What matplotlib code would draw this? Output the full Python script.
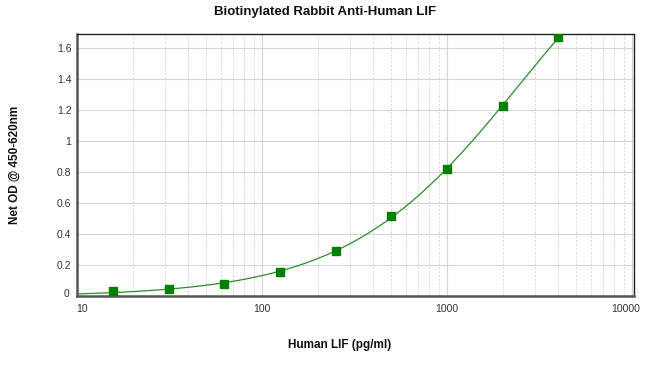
import numpy as np
import matplotlib
matplotlib.use("Agg")
import matplotlib.pyplot as plt
import matplotlib.transforms as mtransforms
from matplotlib.ticker import FixedLocator, NullFormatter, LogLocator

plt.rcParams['font.family'] = ['Liberation Sans', 'DejaVu Sans']

concentration = [15.6, 31.25, 62.5, 125, 250, 500, 1000, 2000, 4000]
od_values = [0.032, 0.045, 0.077, 0.155, 0.29, 0.516, 0.82, 1.226, 1.67]
y_ticks = [0, 0.2, 0.4, 0.6, 0.8, 1, 1.2, 1.4, 1.6]
y_tick_labels = ["0", "0.2", "0.4", "0.6", "0.8", "1", "1.2", "1.4", "1.6"]
x_ticks = [10, 100, 1000, 10000]
x_tick_labels = ["10", "100", "1000", "10000"]

title = "Biotinylated Rabbit Anti-Human LIF"
xlabel = "Human LIF (pg/ml)"
ylabel = "Net OD @ 450-620nm"


def fit_4pl(x, y):
    x = np.asarray(x, float)
    y = np.asarray(y, float)
    best = None
    for b in np.linspace(0.5, 3.0, 126):
        for c in np.logspace(2, 6, 201):
            w = 1.0 / (1.0 + (x / c) ** b)
            A = np.column_stack([w, 1 - w])
            sol, *_ = np.linalg.lstsq(A, y, rcond=None)
            err = np.sum((A @ sol - y) ** 2)
            if best is None or err < best[0]:
                best = (err, sol[0], sol[1], b, c)
    _, a, d, b, c = best
    return lambda t: d + (a - d) / (1.0 + (t / c) ** b)


fig = plt.figure(figsize=(6.5, 3.72), dpi=100)
ax = fig.add_axes([77/650, 1-296/372, (634-77)/650, (296-34)/372])

curve = fit_4pl(concentration, od_values)
xf = np.logspace(1, np.log10(concentration[-1]), 300)
ax.plot(xf, curve(xf), color='#2e8b2e', lw=0.9, zorder=3)
ax.plot(concentration, od_values, 's', color='#008000', ms=6, zorder=4, ls='none')

ax.set_xscale('log')
ax.set_xlim(10, 10250)
ax.set_ylim(0, 1.69)

ax.xaxis.set_major_locator(FixedLocator(x_ticks))
ax.set_xticklabels(x_tick_labels)
ax.xaxis.set_minor_locator(LogLocator(base=10, subs=np.arange(2, 10)))
ax.xaxis.set_minor_formatter(NullFormatter())
ax.set_yticks(y_ticks)
ax.set_yticklabels(y_tick_labels)

ax.grid(True, which='major', axis='both', color='#d4d4d4', lw=0.8, ls='-', zorder=0)
ax.grid(True, which='minor', axis='x', color='#d4d4d4', lw=0.7, ls=(0, (2, 2)), zorder=0)
ax.set_axisbelow(True)

ax.tick_params(axis='both', which='both', length=0, labelsize=7.5, colors='#333333')
ax.tick_params(axis='x', pad=6)
ax.tick_params(axis='y', pad=4)

# small offsets like the original: first x label nudged right, "0" nudged up, last x label left
xl = ax.get_xticklabels()
yl = ax.get_yticklabels()
xl[0].set_transform(xl[0].get_transform() + mtransforms.ScaledTranslation(5/100, 0, fig.dpi_scale_trans))
xl[-1].set_transform(xl[-1].get_transform() + mtransforms.ScaledTranslation(-6/100, 0, fig.dpi_scale_trans))
yl[0].set_transform(yl[0].get_transform() + mtransforms.ScaledTranslation(-2/100, 3/100, fig.dpi_scale_trans))

for s in ['left', 'bottom']:
    ax.spines[s].set_color('#555555')
    ax.spines[s].set_linewidth(1.8)
for s in ['top', 'right']:
    ax.spines[s].set_color('#222222')
    ax.spines[s].set_linewidth(1.0)

fig.text(325/650, 1-12/372, title, ha='center', va='center', fontsize=9.5, fontweight='bold', color='#111111')
fig.text(340/650, 1-345/372, xlabel, ha='center', va='center', fontsize=8.5, fontweight='bold', color='#111111')
fig.text(15/650, 1-165/372, ylabel, ha='center', va='center', rotation=90, fontsize=8.5, fontweight='bold', color='#111111')

fig.savefig('out.png', dpi=100, facecolor='white')
